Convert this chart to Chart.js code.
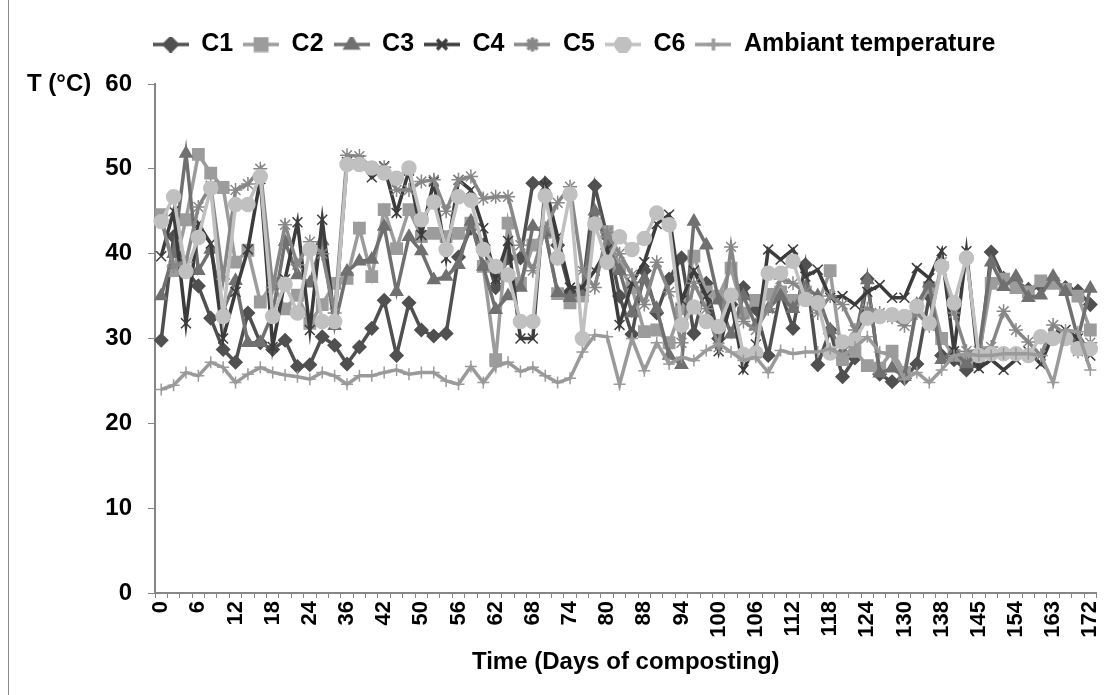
<!DOCTYPE html>
<html>
<head>
<meta charset="utf-8">
<script src="https://cdn.jsdelivr.net/npm/chart.js@4.4.1/dist/chart.umd.min.js"></script>
<style>
  html, body { margin: 0; padding: 0; background: #fff; }
  #wrap { position: relative; width: 1106px; height: 695px; }
  #frame { position: absolute; left: 8px; top: 0; height: 695px; border-left: 1px solid #8c8c8c; }
</style>
</head>
<body>
<div id="wrap">
  <canvas id="chart" width="1106" height="695"></canvas>
  <div id="frame"></div>
</div>
<script>
// days of composting (one category per measurement)
const days = [0, 2, 4, 6, 8, 10, 12, 14, 16, 18, 20, 22, 24, 28, 32, 36, 38, 40, 42, 44, 46,
  50, 52, 54, 56, 58, 60, 62, 64, 66, 68, 70, 72, 74, 76, 78, 80, 82, 85, 88, 90, 92,
  94, 96, 98, 100, 102, 104, 106, 108, 110, 112, 114, 116, 118, 120, 122, 124, 126, 128,
  130, 132, 135, 138, 140, 142, 145, 148, 151, 154, 157, 160, 163, 166, 169, 172];

const c1 = [29.8, 42.0, 38.0, 36.2, 32.4, 28.7, 27.2, 33.0, 29.5, 28.7, 29.8, 26.7, 26.9,
  30.2, 29.2, 27.0, 29.0, 31.2, 34.5, 28.0, 34.2, 31.0, 30.3, 30.6, 39.6, 43.0,
  41.0, 36.0, 39.5, 39.5, 48.3, 48.3, 41.0, 35.5, 35.5, 48.0, 42.0, 35.0, 30.5,
  38.0, 33.0, 37.0, 39.5, 30.6, 36.5, 30.0, 34.0, 36.0, 33.5, 28.0, 35.5,
  31.2, 38.7, 26.9, 31.0, 25.5, 27.7, 37.0, 25.8, 24.9, 25.3, 27.0, 35.0,
  28.0, 27.5, 26.3, 27.0, 40.2, 37.1, 36.7, 35.8, 36.2, 36.8, 36.0, 35.6, 34.0];

const c2 = [44.6, 38.0, 44.0, 51.7, 49.5, 47.8, 39.0, 40.4, 34.3, 36.5, 33.5, 35.1, 31.8,
  34.0, 36.5, 37.1, 43.0, 37.3, 45.2, 40.6, 45.2, 42.0, 42.4, 42.0, 42.4, 43.6,
  38.5, 27.5, 43.6, 36.5, 41.0, 42.5, 35.3, 34.2, 35.0, 43.5, 42.6, 38.5, 36.0,
  30.8, 31.0, 29.5, 33.5, 39.7, 35.5, 35.0, 38.3, 33.0, 34.5, 35.2, 35.5,
  34.5, 35.5, 34.0, 38.0, 27.5, 28.5, 26.8, 26.5, 28.5, 26.0, 33.5, 36.0,
  30.0, 28.0, 27.5, 28.0, 36.5, 37.0, 36.0, 35.5, 36.8, 36.5, 35.8, 35.0, 31.0];

const c3 = [35.0, 40.0, 51.8, 38.0, 40.5, 33.3, 36.8, 29.5, 29.5, 33.0, 41.4, 37.5, 36.5,
  41.5, 31.5, 37.9, 39.1, 39.3, 43.2, 35.5, 42.0, 40.3, 36.9, 37.3, 38.7, 43.8,
  38.5, 33.4, 35.0, 36.0, 43.2, 42.5, 35.4, 34.8, 35.5, 45.0, 41.0, 38.0, 33.0,
  37.0, 33.5, 28.0, 26.9, 43.8, 41.0, 34.5, 30.5, 35.0, 31.5, 33.5, 35.0,
  33.5, 36.0, 35.0, 31.0, 28.5, 30.0, 36.9, 25.9, 26.5, 25.5, 34.0, 36.5,
  27.5, 28.5, 27.0, 28.5, 39.0, 36.1, 37.3, 34.8, 35.1, 37.3, 35.5, 30.0, 35.9];

const c4 = [39.7, 45.0, 31.8, 43.5, 41.2, 30.0, 35.5, 40.5, 48.8, 29.0, 37.0, 43.7, 31.0,
  44.0, 32.0, 50.8, 51.0, 49.0, 50.3, 44.8, 49.8, 42.2, 48.5, 39.5, 48.7, 47.5,
  43.0, 37.0, 41.5, 30.0, 30.0, 48.0, 42.0, 36.0, 36.0, 38.0, 40.5, 31.6, 36.5,
  39.0, 43.5, 44.6, 34.5, 38.0, 35.0, 28.5, 34.5, 26.3, 29.3, 40.5, 39.3,
  40.5, 37.3, 38.1, 34.8, 35.0, 34.0, 35.5, 36.3, 34.8, 34.8, 38.3, 37.1,
  40.3, 28.5, 40.3, 26.5, 27.5, 26.3, 27.5, 28.5, 27.0, 30.5, 31.0, 30.0, 28.0];

const c5 = [44.0, 38.5, 39.0, 45.5, 48.0, 37.0, 47.5, 48.2, 50.0, 36.0, 43.4, 38.7, 41.4,
  40.0, 33.0, 51.6, 51.5, 50.1, 50.2, 47.5, 47.5, 48.5, 48.7, 45.0, 48.7, 49.1,
  46.5, 46.7, 46.7, 41.0, 38.0, 43.0, 46.0, 47.9, 38.0, 36.0, 42.5, 40.0, 37.5,
  34.0, 39.0, 35.5, 29.5, 36.5, 33.5, 29.0, 40.8, 32.0, 31.0, 33.5, 37.0,
  36.5, 35.5, 33.0, 35.0, 34.0, 31.0, 33.5, 33.0, 32.5, 31.5, 33.0, 31.5,
  39.0, 33.0, 28.5, 28.5, 29.0, 33.2, 31.0, 29.6, 28.0, 31.6, 30.5, 28.5, 29.5];

const c6 = [43.8, 46.7, 37.9, 41.9, 47.7, 32.6, 45.8, 45.8, 49.1, 32.6, 36.4, 33.0, 40.5,
  32.0, 32.0, 50.5, 50.5, 50.1, 49.5, 48.9, 50.1, 44.0, 46.1, 40.5, 46.7, 46.3,
  40.5, 38.5, 37.5, 32.0, 32.0, 46.8, 39.5, 47.0, 30.0, 43.5, 39.0, 42.0, 40.5,
  41.8, 44.8, 43.4, 31.6, 33.7, 32.0, 31.4, 35.1, 28.1, 28.3, 37.7, 37.7,
  39.1, 34.6, 34.2, 28.3, 29.6, 29.8, 32.4, 32.6, 32.8, 32.6, 33.8, 31.8,
  38.5, 34.2, 39.5, 28.0, 28.2, 28.2, 28.2, 28.0, 30.2, 30.0, 30.0, 28.8, 28.8];

const ambient = [24.0, 24.5, 26.0, 25.6, 27.2, 26.6, 24.8, 25.8, 26.6, 26.0, 25.7, 25.5, 25.2,
  26.0, 25.6, 24.6, 25.6, 25.6, 26.0, 26.3, 25.8, 26.0, 26.0, 25.0, 24.6, 26.7,
  24.8, 26.7, 27.2, 26.1, 26.6, 25.6, 24.8, 25.3, 28.4, 30.4, 30.2, 24.6, 30.0,
  26.2, 29.5, 27.0, 27.8, 27.4, 28.6, 29.4, 28.4, 27.4, 27.8, 26.0, 28.6,
  28.2, 28.4, 28.4, 28.8, 28.0, 29.0, 30.2, 28.4, 28.0, 25.2, 26.0, 24.8,
  26.3, 28.0, 28.2, 28.0, 28.0, 28.2, 28.2, 28.2, 28.0, 24.8, 31.0, 30.8, 26.3];

const yTicks = [0, 10, 20, 30, 40, 50, 60];

const family = '"Liberation Sans", Arial, sans-serif';
const font = { family: family, size: 24, weight: 'bold' };
const axisGray = '#868686';

const series = [
  { label: 'C1', data: c1, color: '#505050', style: 'rectRot', r: 6.5 },
  { label: 'C2', data: c2, color: '#9c9c9c', style: 'rect', r: 8 },
  { label: 'C3', data: c3, color: '#707070', style: 'triangle', r: 7 },
  { label: 'C4', data: c4, color: '#3c3c3c', style: 'crossRot', r: 7 },
  { label: 'C5', data: c5, color: '#878787', style: 'star', r: 7 },
  { label: 'C6', data: c6, color: '#c0c0c0', style: 'circle', r: 7 },
  { label: 'Ambiant temperature', data: ambient, color: '#9a9a9a', style: 'cross', r: 6 }
];

function legendIcon(s) {
  const cv = document.createElement('canvas');
  cv.width = 36; cv.height = 16;
  const c = cv.getContext('2d');
  c.strokeStyle = s.color; c.lineWidth = 3.5;
  c.beginPath(); c.moveTo(0, 8); c.lineTo(36, 8); c.stroke();
  c.fillStyle = s.color; c.strokeStyle = s.color;
  Chart.helpers.drawPoint(c, { pointStyle: s.style, radius: s.r, rotation: 0, borderWidth: 1.5 }, 18, 8);
  return cv;
}
const icons = series.map(legendIcon);

// extra room between the legend and the plot
const legendGap = {
  id: 'legendGap',
  beforeInit(chart) {
    const fit = chart.legend.fit;
    chart.legend.fit = function () {
      fit.call(this);
      this.height += 17;
    };
  }
};

const yTitle = {
  id: 'yTitle',
  afterDraw(chart) {
    const { ctx, scales: { y } } = chart;
    ctx.save();
    ctx.font = 'bold 24px ' + family;
    ctx.fillStyle = '#000';
    ctx.textBaseline = 'middle';
    ctx.fillText('T (°C)', 27, y.getPixelForValue(60));
    ctx.restore();
  }
};

new Chart(document.getElementById('chart'), {
  type: 'line',
  data: {
    labels: days,
    datasets: series.map((s, i) => ({
      label: s.label,
      data: s.data,
      borderColor: s.color,
      backgroundColor: s.color,
      pointBackgroundColor: s.color,
      pointBorderColor: s.color,
      pointStyle: s.style,
      pointRadius: s.r,
      pointBorderWidth: 1.5,
      borderWidth: 3.5,
      tension: 0,
      fill: false,
      order: series.length - i
    }))
  },
  options: {
    responsive: false,
    animation: false,
    layout: { padding: { left: 50, right: 8, top: 22, bottom: 0 } },
    plugins: {
      legend: {
        position: 'top',
        labels: {
          usePointStyle: true,
          pointStyleWidth: 36,
          boxHeight: 16,
          padding: 10,
          color: '#000',
          font: { family: family, size: 25, weight: 'bold' },
          sort: (a, b) => a.datasetIndex - b.datasetIndex,
          generateLabels(chart) {
            const items = Chart.defaults.plugins.legend.labels.generateLabels(chart);
            items.forEach(it => { it.pointStyle = icons[it.datasetIndex]; });
            return items;
          }
        }
      },
      tooltip: { enabled: false }
    },
    scales: {
      x: {
        offset: true,
        grid: { drawOnChartArea: false, drawTicks: true, tickLength: 5, color: axisGray, offset: true },
        border: { color: axisGray, width: 2 },
        ticks: {
          autoSkip: false, minRotation: 90, maxRotation: 90, padding: 3,
          color: '#000', font: { family: family, size: 22, weight: 'bold' },
          callback: (v, i) => (i % 3 === 0 ? days[i] : '')
        },
        title: { display: true, text: 'Time (Days of composting)', color: '#000', font: font, padding: { top: 4, bottom: 18 } },
        afterFit: s => { s.height = 102; s.paddingLeft = 0; s.paddingRight = 0; }
      },
      y: {
        min: yTicks[0],
        max: yTicks[yTicks.length - 1],
        afterBuildTicks: s => { s.ticks = yTicks.map(v => ({ value: v })); },
        grid: { drawOnChartArea: false, drawTicks: true, tickLength: 7, color: axisGray },
        border: { color: axisGray, width: 2 },
        ticks: { padding: 16, color: '#000', font: font },
        afterFit: s => { s.width = 105; }
      }
    }
  },
  plugins: [legendGap, yTitle]
});
</script>
</body>
</html>
